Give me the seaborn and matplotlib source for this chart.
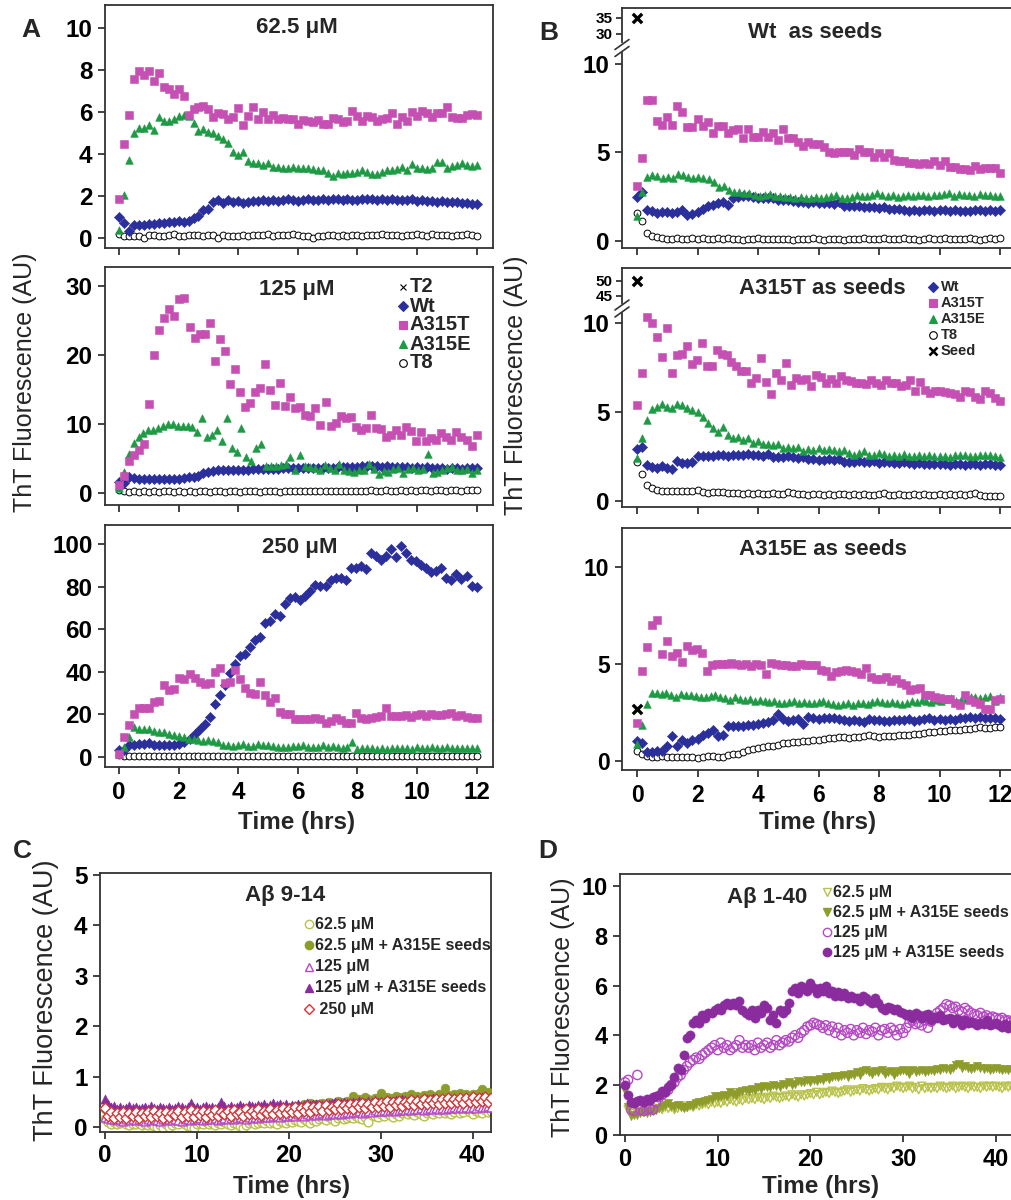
import numpy as np
import matplotlib
matplotlib.use('Agg')
import matplotlib.pyplot as plt
import seaborn as sns
from matplotlib.lines import Line2D

sns.set_style('white')
FAM = ['Liberation Sans', 'DejaVu Sans']
plt.rcParams['font.family'] = FAM
plt.rcParams['font.weight'] = 'bold'
plt.rcParams['axes.linewidth'] = 1.3

# ---------------- data ----------------
# Panel A, 62.5 uM (time 0-12 h)
A62_WT = [1.0,0.7,0.3,0.6,0.6,0.6,0.65,0.65,0.7,0.7,0.75,0.75,0.8,0.75,0.8,
          0.95,1.05,1.3,1.35,1.7,1.8,1.65,1.8,1.7,1.75,1.65,1.7,1.75,1.75,1.8,
          1.75,1.8,1.75,1.8,1.85,1.8,1.75,1.8,1.85,1.8,1.8,1.85,1.8,1.85,1.85,
          1.8,1.85,1.8,1.8,1.85,1.85,1.85,1.8,1.85,1.8,1.85,1.8,1.8,1.8,1.85,
          1.75,1.8,1.75,1.75,1.7,1.75,1.7,1.7,1.7,1.65,1.65,1.6,1.6]
A62_T = [1.85,4.45,5.85,7.55,7.95,7.75,7.95,7.45,7.85,7.2,7.1,6.85,7.1,6.75,5.85,
         6.15,6.25,6.3,6.15,5.75,5.95,5.9,5.65,5.75,6.2,5.35,5.8,6.25,5.65,6.0,
         5.65,5.85,5.65,5.7,5.65,5.65,5.4,5.6,5.55,5.5,5.6,5.4,5.4,5.7,5.65,
         5.5,5.55,6.05,5.8,5.55,5.8,5.75,5.55,5.65,5.7,5.95,5.4,5.75,5.55,6.0,
         5.8,6.05,5.95,5.75,5.95,5.95,6.25,5.75,5.7,5.7,5.85,5.9,5.85]
A62_E = [0.35,2.05,3.7,5.0,5.25,5.25,5.35,5.15,5.75,5.55,5.55,5.65,5.8,5.85,5.8,
         5.45,5.1,5.2,5.05,5.0,4.85,4.7,4.5,4.1,3.95,4.1,3.65,3.55,3.55,3.45,
         3.55,3.35,3.35,3.3,3.3,3.35,3.3,3.3,3.3,3.25,3.2,3.2,3.1,2.95,3.1,
         3.05,3.1,3.1,3.15,3.2,3.15,3.05,3.05,3.15,3.2,3.2,3.25,3.35,3.2,3.5,
         3.3,3.3,3.25,3.3,3.6,3.6,3.3,3.4,3.45,3.55,3.45,3.4,3.45]
A62_T8 = [0.15,0.05,0.05,0.05,0.05,0.0,0.1,0.1,0.05,0.05,0.1,0.15,0.05,0.05,0.1,
          0.1,0.1,0.05,0.1,0.1,0.0,0.1,0.05,0.05,0.05,0.1,0.05,0.1,0.1,0.1,
          0.15,0.05,0.1,0.1,0.1,0.15,0.1,0.05,0.05,0.0,0.05,0.05,0.1,0.1,0.05,
          0.1,0.05,0.1,0.1,0.05,0.1,0.1,0.1,0.15,0.1,0.1,0.1,0.05,0.1,0.1,
          0.15,0.1,0.05,0.15,0.1,0.1,0.1,0.05,0.1,0.1,0.15,0.1,0.05]

# Panel A, 125 uM
A125_WT = [1.6,1.5,2.3,2.2,2.1,2.1,2.0,2.0,2.0,2.0,2.0,2.0,2.1,2.2,2.3,2.4,2.5,2.9,
           3.1,3.2,3.3,3.3,3.3,3.4,3.4,3.4,3.4,3.5,3.5,3.5,3.5,3.5,3.5,3.6,3.6,3.6,
           3.6,3.6,3.6,3.6,3.7,3.7,3.7,3.7,3.8,3.8,3.8,3.8,3.8,3.9,3.9,3.9,3.9,3.8,
           3.9,3.8,3.8,3.8,3.8,3.7,3.8,3.7,3.8,3.7,3.6,3.6,3.5,3.6,3.6,3.5,3.6,3.6,3.6]
A125_T = [1.2,2.5,4.6,5.5,6.3,7.2,12.9,20.0,23.6,25.3,26.7,25.6,28.1,28.2,24.0,22.5,
          23.1,23.1,24.6,19.1,22.4,20.6,15.8,18.0,14.7,12.5,13.0,14.7,15.2,18.7,15.0,
          12.8,15.9,12.7,14.0,12.4,12.5,11.3,11.2,12.3,9.9,13.2,9.8,10.1,11.2,10.9,
          11.0,9.6,9.2,9.5,11.3,9.4,9.3,8.2,8.4,9.2,8.4,9.6,9.0,7.6,8.8,7.5,8.0,7.7,
          8.7,8.1,7.7,8.8,8.1,7.7,6.9,8.4]
A125_E = [0.8,3.1,5.7,7.3,8.1,8.7,9.1,9.2,9.5,9.8,10.0,10.0,9.8,9.8,9.8,9.6,8.9,10.9,
          8.1,8.4,9.1,7.6,10.9,6.5,6.0,9.4,5.3,4.6,6.5,7.2,4.0,3.9,4.0,4.1,4.2,5.3,
          3.4,5.5,3.9,3.8,3.6,3.4,4.1,3.7,3.4,4.3,3.3,3.2,3.1,3.4,3.3,4.2,3.5,2.8,
          3.2,3.1,3.5,3.6,2.9,3.5,3.7,3.3,3.5,5.7,3.0,3.1,3.4,3.6,3.8,3.4,3.3,3.5,2.9,3.4]
A125_T8 = [0.5,0.3,0.25,0.3,0.25,0.3,0.25,0.3,0.25,0.3,0.3,0.25,0.3,0.25,0.3,0.25,
           0.3,0.3,0.25,0.3,0.3,0.25,0.3,0.3,0.25,0.3,0.3,0.3,0.25,0.3,0.3,0.3,0.25,
           0.3,0.3,0.35,0.3,0.3,0.3,0.35,0.3,0.35,0.3,0.35,0.3,0.35,0.35,0.3,0.35,
           0.35,0.4,0.35,0.35,0.4,0.35,0.35,0.4,0.35,0.4,0.35,0.4,0.4,0.35,0.4,0.4,
           0.35,0.4,0.4,0.35,0.4,0.4,0.45]

# Panel A, 250 uM
A250_WT = [3.1,3.5,5.5,5.5,6.3,6.3,6.8,5.5,5.5,5.5,5.5,5.5,6.3,7.1,8.6,10.7,13.3,15.7,
           18.8,24.8,29.0,33.8,39.2,43.6,47.4,48.4,51.5,54.9,56.5,62.8,64.0,67.2,66.2,
           71.9,74.6,75.0,73.8,75.7,77.7,80.8,80.4,80.4,82.9,84.0,84.0,82.9,88.7,88.7,
           89.5,88.2,95.8,94.5,92.3,94.2,97.6,93.9,99.2,95.8,92.3,91.8,90.3,88.7,86.7,
           87.1,88.7,84.0,83.2,86.0,83.5,84.8,80.4,79.7]
A250_T = [1.6,9.4,14.9,20.4,22.8,22.8,22.8,25.9,26.4,33.8,31.4,31.9,36.9,36.6,38.8,36.9,
          35.3,34.2,34.9,40.0,41.6,34.5,35.3,40.8,36.4,32.2,30.1,29.5,35.3,29.0,25.9,
          27.5,21.2,20.1,20.1,17.6,17.6,17.6,17.6,18.1,17.6,16.0,17.0,18.1,17.3,16.0,
          16.0,20.7,18.1,17.6,18.5,18.8,19.2,23.2,19.2,19.2,19.2,19.6,18.8,19.6,20.1,
          19.2,20.4,19.6,19.6,20.1,20.7,19.2,19.6,18.8,18.5,18.1]
A250_E = [1.6,4.5,9.4,14.1,13.3,13.0,13.3,12.2,11.8,11.8,11.0,10.4,9.9,9.4,8.6,8.3,7.9,
          7.6,7.9,7.6,7.1,5.5,5.5,5.3,5.5,6.3,5.3,5.3,6.3,5.5,5.5,5.0,4.7,4.5,4.7,5.0,
          5.3,5.8,4.7,4.5,4.5,5.5,4.5,5.0,4.5,4.4,4.5,7.0,3.9,4.2,4.2,4.2,3.9,4.2,3.9,
          4.4,4.2,4.4,4.2,3.9,4.7,4.2,4.4,4.7,4.4,4.2,4.7,4.4,4.2,4.2,4.4,4.2,4.2]
A250_T8 = [0.8,0.5,0.5,0.5,0.4,0.5,0.5,0.4,0.5,0.5,0.5,0.4,0.5,0.5,0.5,0.4,0.5,0.5,0.5,
           0.5,0.4,0.5,0.5,0.5,0.4,0.5,0.5,0.5,0.5,0.4,0.5,0.5,0.5,0.5,0.4,0.5,0.5,0.5,
           0.4,0.5,0.5,0.5,0.5,0.4,0.5,0.5,0.5,0.4,0.5,0.5,0.5,0.5,0.4,0.5,0.5,0.5,0.5,
           0.4,0.5,0.5,0.5,0.4,0.5,0.5,0.5,0.5,0.4,0.5,0.5,0.5,0.5,0.4,0.5]

# Panel B, Wt as seeds
BW_WT = [2.5,2.75,1.75,1.7,1.6,1.65,1.65,1.6,1.65,1.75,1.45,1.5,1.65,1.8,2.0,2.05,2.15,
         2.2,2.05,2.4,2.5,2.55,2.55,2.5,2.45,2.45,2.4,2.45,2.3,2.3,2.3,2.25,2.2,2.2,2.15,
         2.2,2.15,2.15,2.15,2.1,2.2,2.0,2.0,1.95,1.95,1.9,1.9,1.9,1.85,1.9,1.8,1.8,1.8,
         1.75,1.7,1.75,1.7,1.75,1.75,1.7,1.75,1.75,1.7,1.75,1.7,1.7,1.7,1.75,1.75,1.7,
         1.75,1.7,1.75]
BW_T = [3.1,4.7,7.95,7.95,6.8,6.55,7.0,6.55,7.6,7.3,6.45,6.45,6.9,6.5,6.7,6.1,6.5,6.5,
        6.1,6.25,6.3,5.8,6.3,5.9,5.9,6.15,5.9,6.1,5.7,6.3,5.8,5.8,5.6,5.35,5.6,5.5,5.5,
        5.3,5.05,4.95,5.05,5.05,5.05,4.85,5.2,5.05,5.0,4.75,4.95,4.75,4.95,4.55,4.5,4.5,
        4.4,4.4,4.35,4.4,4.35,4.5,4.3,4.5,4.2,4.2,4.05,4.05,4.0,4.25,4.05,4.1,4.1,4.1,
        3.85]
BW_E = [1.4,2.75,3.6,3.7,3.65,3.55,3.6,3.55,3.8,3.7,3.6,3.55,3.6,3.55,3.5,3.35,3.05,3.1,
        2.85,2.75,2.75,2.7,2.7,2.6,2.55,2.6,2.65,2.55,2.55,2.5,2.5,2.45,2.5,2.45,2.45,2.5,
        2.45,2.5,2.55,2.6,2.4,2.45,2.5,2.6,2.55,2.55,2.6,2.7,2.6,2.55,2.6,2.5,2.55,2.6,
        2.55,2.6,2.6,2.55,2.6,2.6,2.65,2.7,2.55,2.65,2.6,2.6,2.55,2.65,2.6,2.6,2.55,2.55]
BW_T8 = [1.6,1.15,0.45,0.3,0.2,0.15,0.1,0.1,0.15,0.1,0.12,0.15,0.1,0.15,0.12,0.1,0.15,
         0.1,0.15,0.12,0.1,0.08,0.12,0.1,0.15,0.1,0.12,0.1,0.1,0.12,0.1,0.08,0.1,0.12,
         0.1,0.15,0.1,0.08,0.1,0.12,0.1,0.08,0.1,0.12,0.1,0.15,0.12,0.1,0.12,0.15,0.1,
         0.12,0.1,0.15,0.12,0.1,0.08,0.12,0.15,0.1,0.12,0.15,0.1,0.12,0.1,0.12,0.15,0.1,
         0.08,0.1,0.15,0.1,0.18]

# Panel B, A315T as seeds
BT_WT = [2.9,3.05,2.0,1.9,1.85,1.95,1.85,1.8,2.25,2.15,2.15,2.2,2.55,2.55,2.5,2.55,2.6,
         2.6,2.55,2.6,2.6,2.6,2.65,2.6,2.6,2.55,2.65,2.45,2.45,2.45,2.5,2.45,2.4,2.45,
         2.35,2.35,2.3,2.3,2.35,2.3,2.35,2.2,2.2,2.2,2.25,2.2,2.2,2.25,2.15,2.2,2.2,2.15,
         2.15,2.2,2.15,2.1,2.15,2.1,2.1,2.05,2.1,2.05,2.0,2.1,2.05,2.0,2.05,2.05,2.0,
         2.05,2.05,2.0,2.0]
BT_T = [5.4,7.2,10.35,10.0,9.2,8.1,9.7,7.2,8.2,8.25,8.7,7.7,7.9,8.9,7.6,7.6,8.5,8.25,
        8.2,7.8,7.6,7.3,7.3,6.6,6.9,8.05,6.7,6.0,7.2,6.8,7.75,6.5,6.9,6.8,6.85,6.45,7.05,
        6.95,6.6,6.85,6.6,7.0,6.8,6.75,6.65,6.65,6.55,6.8,6.65,6.5,6.8,6.65,6.6,6.45,6.5,
        6.8,6.2,6.7,6.25,6.05,6.15,6.15,6.1,6.05,6.0,5.85,6.2,6.1,5.85,5.75,6.2,6.05,5.8,
        5.6]
BT_E = [2.4,3.55,4.55,5.15,5.3,5.45,5.3,5.2,5.45,5.4,5.25,5.1,5.0,4.7,4.4,4.1,3.85,4.15,
        3.7,3.55,3.6,3.4,3.55,3.25,3.35,3.2,3.2,3.15,3.2,3.0,3.05,3.0,3.05,2.8,2.9,2.85,
        2.95,2.85,2.9,2.85,2.8,2.85,2.7,2.6,2.7,2.8,2.6,2.6,2.7,2.65,2.55,2.6,2.55,2.65,
        2.5,2.55,2.6,2.55,2.6,2.5,2.55,2.5,2.45,2.6,2.6,2.6,2.55,2.55,2.6,2.6,2.6,2.55,
        2.45]
BT_T8 = [2.2,1.5,0.9,0.7,0.6,0.55,0.55,0.55,0.55,0.55,0.55,0.55,0.6,0.5,0.45,0.5,0.5,
         0.5,0.45,0.45,0.45,0.4,0.45,0.4,0.45,0.4,0.4,0.45,0.4,0.4,0.5,0.45,0.4,0.4,0.35,
         0.4,0.4,0.35,0.4,0.35,0.4,0.4,0.35,0.4,0.35,0.4,0.35,0.35,0.4,0.45,0.35,0.35,
         0.4,0.35,0.35,0.4,0.35,0.4,0.35,0.35,0.4,0.35,0.4,0.35,0.4,0.35,0.4,0.45,0.35,
         0.3,0.3,0.3,0.3]

# Panel B, A315E as seeds
BE_WT = [1.05,0.95,0.45,0.45,0.5,0.5,0.75,1.3,0.75,1.1,0.95,1.1,1.15,1.35,1.45,1.6,1.3,
         1.35,1.8,1.8,1.8,1.8,1.85,1.85,1.9,1.95,2.0,2.1,2.4,2.15,2.05,2.1,2.15,1.9,2.25,
         2.2,2.15,2.2,2.2,2.2,2.15,2.1,2.05,2.1,2.05,2.0,2.15,2.1,2.1,2.05,2.05,2.1,2.1,
         2.1,2.15,2.05,2.1,2.15,2.2,2.1,2.15,2.1,2.15,2.1,2.2,2.2,2.25,2.2,2.25,2.2,2.2,
         2.2,2.15]
BE_T = [1.95,4.65,5.85,7.0,7.25,5.5,6.2,5.4,5.55,5.1,5.9,5.7,5.75,5.55,4.65,4.95,5.0,5.0,
        5.0,5.05,5.0,4.95,5.0,4.9,5.0,4.95,4.5,5.05,5.0,4.95,4.95,4.9,4.9,5.0,4.95,4.95,
        4.95,4.7,4.65,4.4,4.6,4.65,4.7,4.65,4.6,4.5,4.8,4.35,4.25,4.25,4.35,4.1,4.25,4.0,
        3.9,3.65,3.7,3.75,3.4,3.4,3.3,3.25,3.2,3.2,3.0,2.9,3.4,3.15,3.05,2.95,2.7,2.7,
        3.15,3.2]
BE_E = [0.9,1.85,2.95,3.5,3.5,3.45,3.5,3.4,3.3,3.45,3.4,3.4,3.35,3.3,3.3,3.35,3.4,3.3,
        3.25,3.15,3.3,3.2,3.15,3.2,3.1,3.15,3.1,3.05,3.1,3.0,3.0,3.05,3.1,3.0,3.05,3.0,
        3.0,3.05,3.1,3.0,2.95,2.9,2.95,3.0,2.9,3.0,3.0,2.95,3.05,3.1,3.05,3.0,3.05,3.0,
        2.95,3.0,3.1,3.05,3.15,3.1,3.05,3.15,3.1,3.2,3.25,3.1,3.15,3.2,3.3,3.3,3.25,3.3,
        3.35,3.1,3.3]
BE_T8 = [0.5,0.35,0.25,0.2,0.2,0.25,0.2,0.2,0.2,0.2,0.2,0.2,0.15,0.2,0.25,0.25,0.2,0.2,
         0.3,0.35,0.35,0.45,0.55,0.6,0.65,0.7,0.75,0.8,0.85,0.95,0.95,1.0,1.0,1.05,1.05,
         1.1,1.1,1.15,1.2,1.2,1.25,1.25,1.2,1.25,1.25,1.3,1.35,1.3,1.25,1.3,1.3,1.3,1.35,
         1.35,1.35,1.4,1.4,1.45,1.5,1.5,1.55,1.55,1.6,1.6,1.6,1.65,1.65,1.7,1.75,1.7,1.7,
         1.75,1.75]

SEED_T = [0.0]
SEED_WT = [35.0]
SEED_T315 = [50.0]
SEED_E315 = [2.7]

# Panel C, Abeta 9-14 (time 0-42 h)
C62 = [0.15,0.1,0.05,0.1,0.05,0.08,0.1,0.05,0.03,0.06,
       0.05,0.08,0.04,0.06,0.03,0.05,0.02,0.0,0.03,-0.02,
       0.05,0.0,0.04,0.08,0.05,0.1,0.06,0.02,0.0,-0.03,
       0.05,0.08,0.06,0.1,0.05,0.07,0.03,0.08,0.05,0.1,
       0.06,0.04,0.08,0.05,0.02,-0.02,0.04,0.08,0.1,0.06,
       0.08,0.1,0.07,0.12,0.08,0.1,0.06,0.12,0.1,0.08,
       0.12,0.1,0.14,0.12,0.1,0.15,0.12,0.08,0.14,0.12,
       0.15,0.18,0.14,0.2,0.16,0.12,0.18,0.2,0.16,0.18,
       0.2,0.17,0.22,0.18,0.15,0.2,0.1,0.24,0.22,0.2,
       0.25,0.22,0.28,0.24,0.2,0.26,0.22,0.28,0.3,0.25,
       0.28,0.24,0.3,0.26,0.22,0.28,0.3,0.25,0.3,0.27,
       0.32,0.28,0.3,0.26,0.3,0.33,0.28,0.3,0.35,0.3,
       0.26,0.32,0.3,0.28,0.34,0.3,0.32]
C62S = [0.35,0.3,0.25,0.28,0.22,0.25,0.2,0.24,0.26,0.22,
        0.25,0.2,0.24,0.22,0.26,0.2,0.23,0.25,0.22,0.26,
        0.24,0.2,0.25,0.22,0.26,0.24,0.2,0.28,0.25,0.22,
        0.26,0.24,0.28,0.25,0.3,0.26,0.24,0.28,0.3,0.26,
        0.28,0.3,0.26,0.32,0.28,0.3,0.35,0.28,0.3,0.34,
        0.3,0.32,0.35,0.3,0.34,0.36,0.32,0.35,0.38,0.34,
        0.36,0.4,0.38,0.42,0.4,0.45,0.42,0.48,0.44,0.46,
        0.45,0.48,0.44,0.5,0.46,0.48,0.52,0.5,0.48,0.52,
        0.5,0.62,0.52,0.55,0.5,0.6,0.55,0.52,0.58,0.55,
        0.68,0.55,0.6,0.58,0.56,0.62,0.6,0.58,0.62,0.6,
        0.65,0.6,0.62,0.58,0.64,0.6,0.66,0.62,0.6,0.65,
        0.62,0.78,0.64,0.6,0.66,0.62,0.68,0.64,0.66,0.62,
        0.66,0.64,0.68,0.75,0.66,0.7,0.68]
C125 = [0.2,0.18,0.15,0.16,0.14,0.15,0.12,0.16,0.14,0.15,
        0.13,0.16,0.14,0.12,0.15,0.13,0.16,0.14,0.12,0.15,
        0.14,0.16,0.13,0.15,0.14,0.12,0.16,0.15,0.13,0.16,
        0.15,0.17,0.14,0.16,0.18,0.15,0.17,0.14,0.16,0.18,
        0.16,0.18,0.15,0.17,0.2,0.18,0.16,0.19,0.17,0.2,
        0.18,0.2,0.22,0.19,0.2,0.22,0.21,0.2,0.23,0.22,
        0.22,0.24,0.22,0.25,0.23,0.22,0.25,0.24,0.26,0.24,
        0.25,0.27,0.24,0.26,0.28,0.25,0.27,0.26,0.28,0.3,
        0.28,0.3,0.29,0.31,0.28,0.3,0.32,0.3,0.33,0.31,
        0.32,0.34,0.31,0.33,0.35,0.32,0.34,0.36,0.33,0.35,
        0.34,0.36,0.35,0.37,0.34,0.36,0.38,0.35,0.37,0.36,
        0.38,0.36,0.38,0.37,0.39,0.38,0.4,0.37,0.39,0.38,
        0.4,0.38,0.41,0.39,0.4,0.42,0.4]
C125S = [0.55,0.45,0.4,0.42,0.36,0.4,0.35,0.38,0.42,0.37,
         0.4,0.35,0.38,0.4,0.36,0.42,0.38,0.35,0.4,0.37,
         0.36,0.4,0.35,0.38,0.42,0.4,0.36,0.4,0.48,0.38,
         0.4,0.36,0.39,0.42,0.38,0.4,0.36,0.4,0.5,0.42,
         0.38,0.42,0.38,0.4,0.44,0.4,0.38,0.44,0.42,0.4,
         0.44,0.42,0.45,0.4,0.44,0.47,0.43,0.45,0.42,0.45,
         0.4,0.44,0.42,0.46,0.42,0.44,0.48,0.44,0.46,0.45,
         0.46,0.44,0.48,0.45,0.47,0.5,0.46,0.48,0.5,0.47,
         0.48,0.5,0.47,0.52,0.5,0.48,0.52,0.5,0.53,0.5,
         0.52,0.5,0.54,0.52,0.5,0.54,0.52,0.55,0.53,0.52,
         0.55,0.52,0.56,0.54,0.52,0.56,0.54,0.58,0.55,0.53,
         0.56,0.54,0.58,0.55,0.57,0.54,0.58,0.56,0.55,0.58,
         0.56,0.58,0.55,0.6,0.57,0.56,0.58]
C250 = [0.38,0.22,0.3,0.18,0.28,0.2,0.3,0.17,0.27,0.22,
        0.3,0.18,0.28,0.22,0.3,0.2,0.32,0.22,0.28,0.18,
        0.3,0.2,0.28,0.24,0.32,0.2,0.3,0.22,0.33,0.2,
        0.3,0.24,0.32,0.2,0.3,0.24,0.33,0.22,0.3,0.25,
        0.32,0.22,0.34,0.25,0.3,0.22,0.35,0.25,0.32,0.26,
        0.35,0.24,0.32,0.28,0.36,0.25,0.34,0.28,0.38,0.28,
        0.36,0.3,0.4,0.28,0.38,0.32,0.42,0.3,0.4,0.34,
        0.42,0.32,0.44,0.34,0.4,0.36,0.45,0.35,0.44,0.38,
        0.46,0.36,0.45,0.4,0.48,0.38,0.46,0.4,0.5,0.4,
        0.48,0.42,0.52,0.4,0.5,0.44,0.52,0.42,0.5,0.45,
        0.54,0.44,0.52,0.46,0.55,0.45,0.54,0.48,0.56,0.46,
        0.55,0.48,0.58,0.47,0.56,0.5,0.58,0.48,0.57,0.5,
        0.6,0.5,0.58,0.52,0.6,0.5,0.58]

# Panel D, Abeta 1-40 (time 0-42 h)
D62 = [1.8,1.0,0.9,0.85,0.9,0.95,0.9,0.95,1.0,0.95,
       1.0,1.05,1.0,1.1,1.05,1.1,1.0,1.05,1.15,1.1,
       1.1,1.15,1.1,1.2,1.15,1.2,1.25,1.2,1.3,1.25,
       1.3,1.25,1.35,1.3,1.4,1.35,1.3,1.4,1.35,1.45,
       1.4,1.45,1.4,1.5,1.45,1.4,1.5,1.45,1.55,1.5,
       1.45,1.5,1.55,1.5,1.6,1.55,1.5,1.6,1.55,1.6,
       1.65,1.6,1.7,1.6,1.65,1.7,1.65,1.75,1.7,1.65,
       1.7,1.75,1.8,1.7,1.75,1.8,1.75,1.85,1.8,1.75,
       1.8,1.85,1.8,1.9,1.85,1.8,1.9,1.85,1.95,1.9,
       1.85,1.9,1.95,1.85,1.9,1.8,1.95,1.85,1.9,1.85,
       1.9,1.85,1.95,1.9,1.85,1.9,1.95,1.85,1.9,1.95,
       1.9,1.85,1.95,1.9,1.9,1.85,1.95,1.9,1.95,1.9,
       1.95,1.9,1.85,1.95,1.9,1.95,1.9]
D62S = [1.8,1.1,0.75,0.8,0.8,0.85,0.9,0.85,0.9,0.95,
        1.0,1.05,1.1,1.2,1.25,1.15,1.1,1.2,1.1,1.05,
        1.1,1.2,1.15,1.25,1.3,1.3,1.35,1.4,1.45,1.55,
        1.5,1.55,1.6,1.55,1.7,1.65,1.6,1.7,1.75,1.8,
        1.75,1.85,1.8,1.9,1.85,1.95,1.9,1.9,2.0,1.95,
        1.9,2.05,2.0,2.1,2.0,2.05,2.15,2.1,2.1,2.2,
        2.1,2.2,2.15,2.25,2.2,2.3,2.25,2.3,2.35,2.3,
        2.35,2.4,2.3,2.45,2.4,2.5,2.4,2.55,2.6,2.5,
        2.45,2.55,2.5,2.6,2.45,2.5,2.55,2.4,2.5,2.55,
        2.6,2.55,2.45,2.6,2.5,2.55,2.6,2.5,2.55,2.6,
        2.55,2.65,2.6,2.7,2.65,2.6,2.7,2.8,2.85,2.7,
        2.75,2.7,2.65,2.7,2.75,2.7,2.65,2.7,2.6,2.65,
        2.7,2.65,2.6,2.65,2.6,2.65,2.6]
D125 = [2.1,2.2,1.0,0.95,2.4,1.0,0.95,1.0,1.05,1.0,
        1.3,1.5,1.6,1.7,1.8,2.0,2.1,2.3,2.4,2.6,
        2.75,2.9,3.0,3.1,3.05,3.2,3.3,3.4,3.5,3.6,
        3.4,3.7,3.5,3.6,3.4,3.5,3.6,3.8,3.5,3.6,
        3.5,3.6,3.4,3.7,3.5,3.6,3.7,3.5,3.6,3.8,
        3.6,3.7,3.8,3.75,3.9,4.0,3.9,4.1,4.2,4.35,
        4.4,4.5,4.45,4.4,4.3,4.4,4.2,4.35,4.1,4.3,
        4.0,4.2,4.1,4.25,4.0,4.2,4.1,4.3,4.05,4.2,
        4.15,4.3,4.0,4.2,4.25,4.1,4.3,4.2,4.0,4.25,
        4.1,4.3,4.5,4.6,4.45,4.5,4.4,4.6,4.3,4.55,
        4.7,4.9,5.0,5.1,5.25,5.2,5.1,5.15,5.0,4.95,
        5.1,5.0,4.9,4.85,4.8,4.9,4.75,4.8,4.7,4.75,
        4.7,4.65,4.7,4.6,4.6,4.55,4.6]
D125S = [2.0,1.6,1.3,1.25,1.35,1.4,1.3,1.45,1.4,1.5,
         1.55,1.6,1.75,1.7,1.9,2.0,2.3,2.7,2.6,3.2,
         3.9,4.0,4.5,4.6,4.5,4.8,4.7,4.9,4.9,5.0,
         5.1,5.0,5.2,5.3,5.2,5.3,5.2,5.4,5.0,4.9,
         4.8,5.0,4.7,5.0,4.9,5.2,5.1,4.6,4.8,4.5,
         5.0,4.9,5.0,5.3,5.8,5.9,5.7,6.0,5.9,5.8,
         6.1,5.9,5.7,5.9,5.8,6.0,5.7,5.8,5.6,5.75,
         5.6,5.7,5.5,5.6,5.5,5.5,5.4,5.6,5.5,5.4,
         5.3,5.5,5.3,5.1,5.0,5.15,5.1,5.0,5.05,4.95,
         4.9,4.8,4.85,4.7,4.9,4.8,4.7,4.8,4.85,4.6,
         4.75,4.7,4.8,4.6,4.65,4.7,4.5,4.65,4.6,4.4,
         4.6,4.5,4.55,4.5,4.4,4.5,4.45,4.6,4.4,4.45,
         4.5,4.4,4.35,4.45,4.3,4.4,4.35]

# ---------------- colours ----------------
BLUE = '#2B2F9C'
MAG = '#C64FB3'
GREEN = '#1E9A44'
C_OL_L = '#B9C24A'
C_OL_D = '#8E9C2C'
C_MAG = '#B548C4'
C_PUR = '#8A2B9E'
C_RED = '#D0393B'

# ---------------- figure ----------------
W, H = 1012, 1200
fig = plt.figure(figsize=(W / 100, H / 100), dpi=100)


def add_ax(l, t, r, b):
    return fig.add_axes([l / W, 1 - b / H, (r - l) / W, (b - t) / H])


def ftext(x, y, s, **kw):
    kw.setdefault('ha', 'center')
    kw.setdefault('va', 'center')
    return fig.text(x / W, 1 - y / H, s, **kw)


def fmark(x, y, marker, color, size, face=None, mew=0.8):
    fig.add_artist(Line2D([x / W], [1 - y / H], transform=fig.transFigure,
                          marker=marker, linestyle='none', markersize=size,
                          markerfacecolor=color if face is None else face,
                          markeredgecolor=color, markeredgewidth=mew))


def pts(ax, y, tmax, marker, color, s, hollow=False, face='white', lw=0.9, z=2):
    t = np.linspace(0, tmax, len(y))
    if hollow:
        sns.scatterplot(x=t, y=y, ax=ax, marker=marker, s=s, facecolor=face,
                        edgecolor=color, linewidth=lw, zorder=z, legend=False)
    else:
        sns.scatterplot(x=t, y=y, ax=ax, marker=marker, s=s, color=color,
                        edgecolor=color, linewidth=0.4, zorder=z, legend=False)


def style(ax, xlim, ylim, yticks, xticks, xlabels=True, size=17.5, xpad=5):
    ax.set_xlim(*xlim)
    ax.set_ylim(*ylim)
    ax.set_yticks(yticks)
    ax.set_xticks(xticks)
    if not xlabels:
        ax.set_xticklabels([])
    ax.set_xlabel('')
    ax.set_ylabel('')
    ax.tick_params(direction='out', length=5, width=1.2, colors='#222222',
                   labelsize=size, pad=4, bottom=True, left=True)
    ax.tick_params(axis='x', pad=xpad)
    for sp in ax.spines.values():
        sp.set_color('#333333')
        sp.set_linewidth(1.3)
    for lab in ax.get_xticklabels() + ax.get_yticklabels():
        lab.set_fontweight('bold')
        lab.set_color('black')


def plot_set(ax, wt, t315, e315, t8, size=30):
    pts(ax, t8, 12, 'o', 'black', size * 0.8, hollow=True, lw=0.7, z=2)
    pts(ax, wt, 12, 'D', BLUE, size * 0.9, z=3)
    pts(ax, e315, 12, '^', GREEN, size, z=4)
    pts(ax, t315, 12, 's', MAG, size, z=5)


XT12 = [0, 2, 4, 6, 8, 10, 12]

# ----- Panel A -----
axA1 = add_ax(105, 5, 493, 248)
plot_set(axA1, A62_WT, A62_T, A62_E, A62_T8)
style(axA1, (-0.47, 12.55), (-0.5, 11.1), [0, 2, 4, 6, 8, 10], XT12, xlabels=False)

axA2 = add_ax(105, 267, 493, 505)
plot_set(axA2, A125_WT, A125_T, A125_E, A125_T8)
style(axA2, (-0.47, 12.55), (-1.7, 32.75), [0, 10, 20, 30], XT12, xlabels=False)

axA3 = add_ax(105, 525, 493, 767)
plot_set(axA3, A250_WT, A250_T, A250_E, A250_T8)
style(axA3, (-0.47, 12.55), (-4.7, 108.9), [0, 20, 40, 60, 80, 100], XT12)

# ----- Panel B -----
BX = (-0.496, 12.595)


def broken(top_box, bot_box, top_lim, top_ticks, bot_lim, data, seed):
    axt = add_ax(*top_box)
    axb = add_ax(*bot_box)
    sns.scatterplot(x=SEED_T, y=seed, ax=axt, marker='x', s=45, color='black',
                    linewidth=2.4, legend=False, zorder=5)
    style(axt, BX, top_lim, top_ticks, [], size=11)
    axt.tick_params(axis='y', pad=3, length=4)
    axt.spines['bottom'].set_visible(False)
    axt.tick_params(axis='x', bottom=False, labelbottom=False)
    plot_set(axb, *data)
    style(axb, BX, bot_lim, [0, 5, 10], XT12, xlabels=False)
    axb.spines['top'].set_visible(False)
    gy = (top_box[3] + bot_box[1]) / 2
    for dy in (-3, 4):
        fig.add_artist(Line2D([615 / W, 629 / W],
                              [1 - (gy + dy + 5) / H, 1 - (gy + dy - 5) / H],
                              transform=fig.transFigure, color='#333333', lw=1.2))
    return axt, axb


broken((622, 8, 1018, 42), (622, 53, 1018, 248), (27.5, 38.1), [30, 35],
       (-0.4, 10.62), (BW_WT, BW_T, BW_E, BW_T8), SEED_WT)
broken((622, 268, 1018, 303), (622, 313, 1018, 507), (42.67, 54.3), [45, 50],
       (-0.34, 10.56), (BT_WT, BT_T, BT_E, BT_T8), SEED_T315)

axB3 = add_ax(622, 528, 1018, 770)
plot_set(axB3, BE_WT, BE_T, BE_E, BE_T8)
sns.scatterplot(x=SEED_T, y=SEED_E315, ax=axB3, marker='x', s=45, color='black',
                linewidth=2.4, legend=False, zorder=6)
style(axB3, BX, (-0.46, 12.0), [0, 5, 10], XT12, size=16.5)

# ----- Panel C -----
axC = add_ax(100, 873, 491, 1132)
pts(axC, C62, 42, 'o', C_OL_L, 40, hollow=True, lw=1.0, z=2)
pts(axC, C62S, 42, 'o', C_OL_D, 40, z=3)
pts(axC, C125, 42, '^', C_MAG, 40, hollow=True, lw=1.0, z=4)
pts(axC, C125S, 42, '^', C_PUR, 44, z=5)
pts(axC, C250, 42, 'D', C_RED, 30, hollow=True, lw=1.0, z=6)
style(axC, (-0.54, 42.0), (-0.1, 5.04), [0, 1, 2, 3, 4, 5], [0, 10, 20, 30, 40],
      size=17.5, xpad=4)

# ----- Panel D -----
axD = add_ax(620, 874, 1020, 1135)
pts(axD, D62, 42, 'v', C_OL_L, 32, hollow=True, lw=1.0, face='none', z=2)
pts(axD, D62S, 42, 'v', C_OL_D, 36, z=3)
pts(axD, D125, 42, 'o', C_MAG, 44, hollow=True, lw=1.0, face='none', z=4)
pts(axD, D125S, 42, 'o', C_PUR, 44, z=5)
style(axD, (-0.54, 42.6), (-0.02, 10.5), [0, 2, 4, 6, 8, 10], [0, 10, 20, 30, 40],
      size=17, xpad=4)

# ----- texts -----
for x, y, s in [(31, 30, 'A'), (549, 33, 'B'), (22, 851, 'C'), (548, 851, 'D')]:
    ftext(x, y, s, fontsize=19, fontweight='bold')

TS = 16
ftext(297, 28, '62.5 μM', fontsize=TS)
ftext(297, 289, '125 μM', fontsize=TS)
ftext(300, 548, '250 μM', fontsize=TS)
ftext(815, 33, 'Wt  as seeds', fontsize=TS)
ftext(822, 288, 'A315T as seeds', fontsize=TS)
ftext(823, 550, 'A315E as seeds', fontsize=TS)
ftext(285, 895, 'Aβ 9-14', fontsize=TS)
ftext(767, 898, 'Aβ 1-40', fontsize=TS)

for x, y in [(297, 822), (818, 822), (292, 1187), (821, 1187)]:
    ftext(x, y, 'Time (hrs)', fontsize=17.5)

YL = 'ThT Fluorescence (AU)'
ftext(25, 382, YL, rotation=90, fontsize=18, fontweight='normal')
ftext(516, 385, YL, rotation=90, fontsize=18, fontweight='normal')
ftext(46, 1000, YL, rotation=90, fontsize=19.5, fontweight='normal')
ftext(563, 1007, YL, rotation=90, fontsize=18, fontweight='normal')

# ----- legends -----
LA = [('x', 'black', 5, None, 'T2'), ('D', BLUE, 5, None, 'Wt'),
      ('s', MAG, 5.5, None, 'A315T'), ('^', GREEN, 6, None, 'A315E'),
      ('o', 'black', 5.5, 'white', 'T8')]
for i, (m, c, ms, fc, lab) in enumerate(LA):
    y = 287 + i * 19
    fmark(403, y, m, c, ms, face=fc)
    ftext(410, y, lab, ha='left', fontsize=14.5)

LB = [('D', BLUE, 5, None, 'Wt'), ('s', MAG, 5.5, None, 'A315T'),
      ('^', GREEN, 6, None, 'A315E'), ('o', 'black', 5.5, 'white', 'T8'),
      ('x', 'black', 6, None, 'Seed')]
for i, (m, c, ms, fc, lab) in enumerate(LB):
    y = 287 + i * 16
    fmark(933, y, m, c, ms, face=fc, mew=1.8 if m == 'x' else 0.8)
    ftext(941, y, lab, ha='left', fontsize=10.5)

LC = [('o', C_OL_L, 6, 'white', '62.5 μM'), ('o', C_OL_D, 6, None, '62.5 μM + A315E seeds'),
      ('^', C_MAG, 6, 'white', '125 μM'), ('^', C_PUR, 6, None, '125 μM + A315E seeds'),
      ('D', C_RED, 5, 'white', ' 250 μM')]
for i, (m, c, ms, fc, lab) in enumerate(LC):
    y = 924 + i * 21.3
    fmark(309, y, m, c, ms, face=fc, mew=1.0)
    ftext(315, y, lab, ha='left', fontsize=11.5)

LD = [('v', C_OL_L, 6, 'white', '62.5 μM'), ('v', C_OL_D, 6, None, '62.5 μM + A315E seeds'),
      ('o', C_MAG, 6, 'white', '125 μM'), ('o', C_PUR, 6, None, '125 μM + A315E seeds')]
for i, (m, c, ms, fc, lab) in enumerate(LD):
    y = 892 + i * 20
    fmark(827, y, m, c, ms, face=fc, mew=1.0)
    ftext(833, y, lab, ha='left', fontsize=11.5)

fig.savefig('out.png', dpi=100, facecolor='white')
